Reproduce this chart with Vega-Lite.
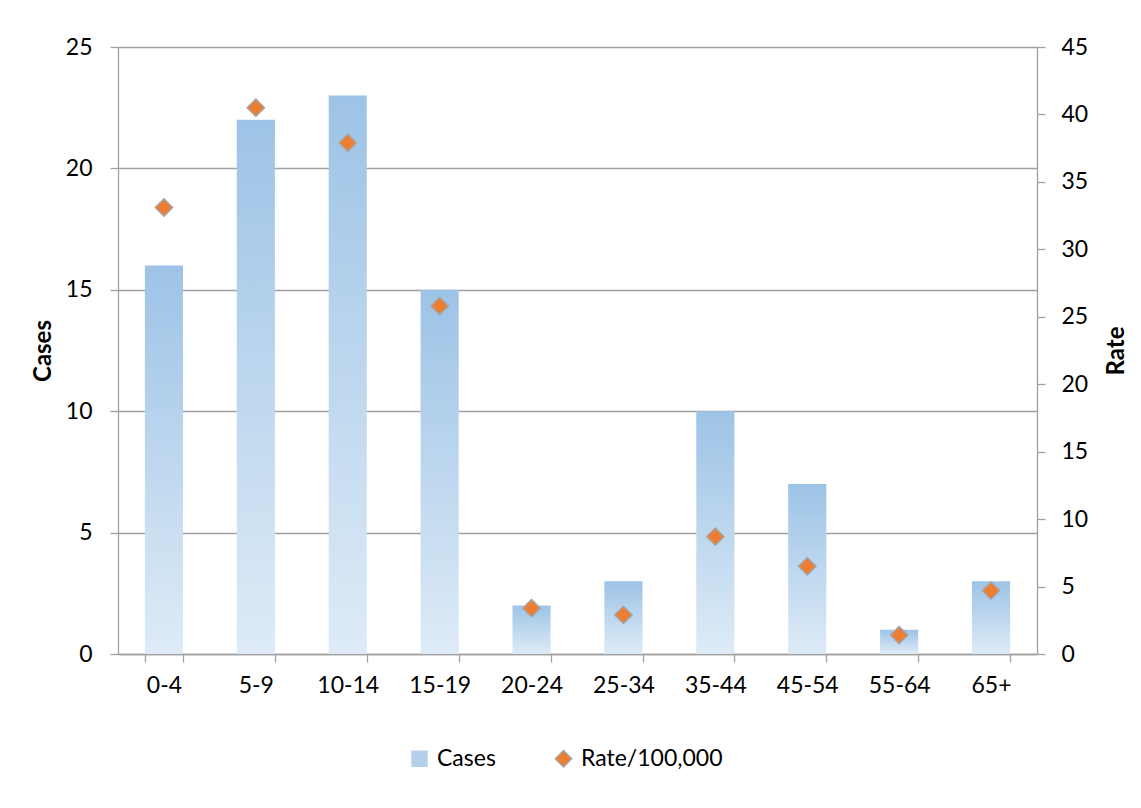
{
  "$schema": "https://vega.github.io/schema/vega-lite/v6.json",
  "autosize": {"type": "none"},
  "width": 919,
  "height": 607,
  "padding": {"left": 118, "top": 47, "right": 104, "bottom": 154},
  "background": "white",
  "config": {
    "font": "Lato",
    "view": {"stroke": null},
    "axis": {
      "labelFont": "Lato",
      "labelFontSize": 23,
      "labelColor": "#000000",
      "titleFont": "Lato",
      "titleFontSize": 24,
      "titleFontWeight": "bold",
      "titleColor": "#000000",
      "domainColor": "#a0a0a0",
      "tickColor": "#a0a0a0",
      "gridColor": "#a0a0a0",
      "domainWidth": 1.3,
      "tickWidth": 1.3,
      "gridWidth": 1.3,
      "tickSize": 8
    },
    "axisBand": {"tickBand": "extent"},
    "axisX": {"tickBand": "extent"},
    "legend": {
      "labelFont": "Lato",
      "labelFontSize": 23,
      "labelColor": "#000000"
    }
  },
  "data": {
    "values": [
      {"age": "0-4", "cases": 16, "rate": 33.1},
      {"age": "5-9", "cases": 22, "rate": 40.5},
      {"age": "10-14", "cases": 23, "rate": 37.9},
      {"age": "15-19", "cases": 15, "rate": 25.8},
      {"age": "20-24", "cases": 2, "rate": 3.4},
      {"age": "25-34", "cases": 3, "rate": 2.9},
      {"age": "35-44", "cases": 10, "rate": 8.7},
      {"age": "45-54", "cases": 7, "rate": 6.5},
      {"age": "55-64", "cases": 1, "rate": 1.4},
      {"age": "65+", "cases": 3, "rate": 4.7}
    ]
  },
  "encoding": {
    "x": {
      "field": "age",
      "type": "nominal",
      "sort": null,
      "scale": {"paddingInner": 0.585, "paddingOuter": 0.2925},
      "axis": {
        "title": null,
        "labelAngle": 0,
        "labelPadding": 12,
        "tickBand": "extent",
        "grid": false
      }
    }
  },
  "layer": [
    {
      "mark": {
        "type": "bar",
        "fill": {
          "gradient": "linear",
          "x1": 0, "y1": 0, "x2": 0, "y2": 1,
          "stops": [
            {"offset": 0, "color": "#9dc3e6"},
            {"offset": 1, "color": "#deebf7"}
          ]
        }
      },
      "encoding": {
        "y": {
          "field": "cases",
          "type": "quantitative",
          "scale": {"domain": [0, 25], "nice": false},
          "axis": {
            "title": "Cases",
            "values": [0, 5, 10, 15, 20, 25],
            "grid": true,
            "labelPadding": 18,
            "titlePadding": 10,
            "orient": "left"
          }
        }
      }
    },
    {
      "mark": {
        "type": "point",
        "filled": true,
        "size": 300,
        "strokeWidth": 1.5,
        "opacity": 1
      },
      "encoding": {
        "y": {
          "field": "rate",
          "type": "quantitative",
          "scale": {"domain": [0, 45], "nice": false},
          "axis": {
            "title": "Rate",
            "orient": "right",
            "values": [0, 5, 10, 15, 20, 25, 30, 35, 40, 45],
            "grid": false,
            "labelPadding": 16,
            "titlePadding": 17,
            "titleAngle": 270,
            "titleBaseline": "top"
          }
        },
        "color": {
          "datum": "Rate/100,000",
          "scale": {"domain": ["Cases", "Rate/100,000"], "range": ["#b4d0ec", "#ed7d31"]},
          "legend": {
            "title": null,
            "orient": "none",
            "legendX": 290,
            "legendY": 700,
            "direction": "horizontal",
            "columnPadding": 56,
            "labelOffset": 6,
            "symbolSize": 270,
            "symbolStrokeWidth": 1.5,
            "symbolOpacity": 1
          }
        },
        "shape": {
          "datum": "Rate/100,000",
          "scale": {"domain": ["Cases", "Rate/100,000"], "range": ["square", "diamond"]},
          "legend": {
            "title": null,
            "orient": "none",
            "legendX": 290,
            "legendY": 700,
            "direction": "horizontal",
            "columnPadding": 56,
            "labelOffset": 6,
            "symbolSize": 270,
            "symbolStrokeWidth": 1.5,
            "symbolOpacity": 1
          }
        },
        "stroke": {
          "datum": "Rate/100,000",
          "scale": {"domain": ["Cases", "Rate/100,000"], "range": ["transparent", "#a5a5a5"]},
          "legend": {
            "title": null,
            "orient": "none",
            "legendX": 290,
            "legendY": 700,
            "direction": "horizontal",
            "columnPadding": 56,
            "labelOffset": 6,
            "symbolSize": 270,
            "symbolStrokeWidth": 1.5,
            "symbolOpacity": 1
          }
        }
      }
    }
  ],
  "resolve": {"scale": {"y": "independent"}}
}
